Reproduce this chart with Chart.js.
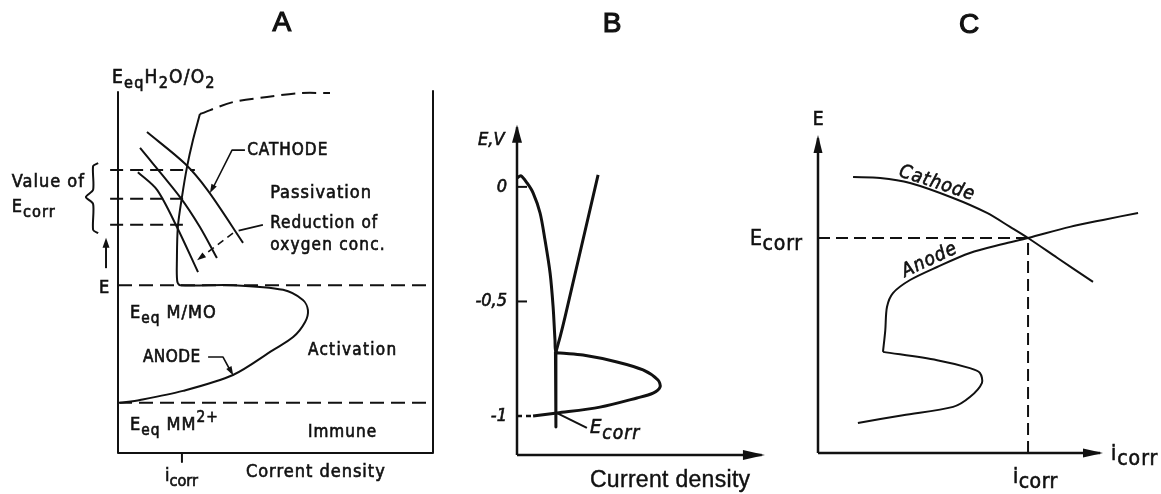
<!DOCTYPE html>
<html>
<head>
<meta charset="utf-8">
<script src="https://cdn.jsdelivr.net/npm/chart.js@4"></script>
<style>
  html, body { margin: 0; background: #fff; }
  body { width: 1161px; height: 494px; position: relative; overflow: hidden; }
  canvas { position: absolute; top: 0; }
</style>
</head>
<body>
<canvas id="chartA" width="450" height="494" style="left:0px"></canvas>
<canvas id="chartB" width="320" height="494" style="left:450px"></canvas>
<canvas id="chartC" width="421" height="494" style="left:740px"></canvas>
<script>
// ---- panel A : E vs current density (0..100 arbitrary units on both axes)
const aZones = [46.5, 13.9];               // passivation/activation, activation/immune
const aAnodeI = [0.6, 7.0, 20.6, 36.5, 49.2, 55.6, 59.4, 60.3, 58.7, 52.4, 36.5, 19.7, 18.8, 18.7, 19.0, 20.3, 21.9, 23.8, 26.0];
const aAnodeE = [13.9, 14.7, 17.2, 21.6, 28.5, 32.1, 36.3, 39.6, 42.4, 45.2, 46.5, 46.5, 47.6, 53.5, 62.6, 70.9, 79.2, 86.7, 93.9];
const aLimitI = [26.0, 36.5, 47.3, 57.8, 67.3];
const aLimitE = [93.9, 97.2, 98.6, 99.7, 99.7];
const aCath1I = [9.2, 21.3, 28.6, 39.7];
const aCath1E = [88.9, 80.1, 72.6, 58.2];
const aCath2I = [7.0, 19.7, 26.0, 31.4];
const aCath2E = [84.5, 70.9, 62.6, 54.0];
const aCath3I = [6.3, 12.4, 18.7, 25.4];
const aCath3E = [77.8, 72.9, 62.6, 50.1];
const aEcorr = [78.4, 70.4, 63.2];
const aEcorrEnd = [24.4, 21.9, 20.6];
const aIcorr = 20.3;

// ---- panel B : E (V) vs current density
const bTicks = [0, -0.5, -1];
const bTickLabels = ['0', '-0,5', '-1'];
const bLoopI = [0, 1.7, 4.3, 6.9, 9.9, 12.0, 14.2, 15.5, 16.3, 16.7, 18.5, 28.3, 42.9, 54.1, 60.5, 61.4, 58.4, 51.5, 35.6, 17.2, 6.9];
const bLoopE = [0.039, 0.048, 0.017, -0.026, -0.114, -0.231, -0.376, -0.524, -0.668, -0.721, -0.725, -0.734, -0.764, -0.799, -0.843, -0.873, -0.900, -0.921, -0.961, -0.987, -1.0];
const bCathI = [16.7, 18.5, 20.6, 34.8];
const bCathE = [-0.721, -0.655, -0.568, 0.052];
const bVertI = [16.5, 16.7];
const bVertE = [-0.721, -1.048];
const bEcorr = -1.0;

// ---- panel C : E vs i
const cCathI = [12.3, 21.8, 32.3, 47.4, 59.3, 67.4, 73.7, 83.9, 96.5];
const cCathE = [86.8, 86.5, 84.9, 80.2, 75.5, 71.1, 67.6, 61.4, 53.8];
const cAnodeLowI = [14.0, 29.8, 47.4, 53.3, 57.5, 56.8, 53.3, 41.8, 22.8];
const cAnodeLowE = [9.4, 11.9, 14.5, 17.6, 22.0, 25.2, 26.7, 29.2, 31.8];
const cAnodeUpI = [22.8, 23.6, 24.2, 26.3, 32.3, 41.8, 53.3, 64.9, 73.7, 88.4, 100, 112.3];
const cAnodeUpE = [31.8, 38.5, 45.9, 50.3, 54.4, 58.5, 62.9, 65.7, 67.6, 71.1, 73.3, 75.5];
const cEcorr = 67.6;
const cIcorr = 73.7;

const ink = '#111';
const fontD = '"DejaVu Sans Condensed", "Liberation Sans Narrow", "DejaVu Sans", sans-serif';
const fontT = '"Liberation Sans", Arial, sans-serif';

function line(xs, ys, o) {
  return Object.assign({
    data: xs.map((v, i) => ({ x: v, y: ys[i] })),
    showLine: true, pointRadius: 0, borderColor: ink, borderWidth: 2,
    tension: 0, fill: false, clip: false, borderJoinStyle: 'round'
  }, o || {});
}

// rich text like E_{eq}H_{2}O or MM^{2+}
function drawRich(ctx, x, y, t) {
  const size = t.size || 17, subScale = t.subScale || 0.8;
  const parts = [];
  t.s.replace(/([_^])\{([^}]*)\}|([^_^]+)/g, (m, k, inner, plain) => {
    parts.push(k ? { s: inner, k } : { s: plain, k: '' });
  });
  const fontOf = p => `${t.style || ''} ${p.k ? size * subScale : size}px ${t.family || fontD}`;
  ctx.save();
  ctx.letterSpacing = (t.ls || 0) + 'px';
  let w = 0;
  parts.forEach(p => { ctx.font = fontOf(p); p.w = ctx.measureText(p.s).width; w += p.w; });
  ctx.translate(x, y);
  if (t.rot) ctx.rotate(t.rot * Math.PI / 180);
  let cx = t.align === 'center' ? -w / 2 : t.align === 'right' ? -w : 0;
  ctx.textBaseline = t.base || 'alphabetic';
  ctx.strokeStyle = ink;
  ctx.lineWidth = t.heavy || 0.6;
  parts.forEach(p => {
    ctx.font = fontOf(p);
    const dy = p.k === '_' ? size * (t.subDy || 0.28) : p.k === '^' ? -size * 0.42 : 0;
    ctx.fillText(p.s, cx, dy);
    ctx.strokeText(p.s, cx, dy);
    cx += p.w;
  });
  ctx.restore();
}

const decoPlugin = {
  id: 'deco',
  afterDatasetsDraw(chart, args, opts) {
    const { ctx } = chart;
    const sx = chart.scales.x, sy = chart.scales.y;
    const P = (a) => [sx.getPixelForValue(a[0]), sy.getPixelForValue(a[1])];
    ctx.save();
    ctx.fillStyle = ink;
    (opts.arrows || []).forEach(a => {
      const [tx, ty] = P(a.at), [fx, fy] = P(a.from);
      const ang = Math.atan2(ty - fy, tx - fx);
      const len = a.len || 9, w = (a.w || 6) / 2;
      ctx.beginPath();
      ctx.moveTo(tx, ty);
      ctx.lineTo(tx - len * Math.cos(ang) + w * Math.sin(ang), ty - len * Math.sin(ang) - w * Math.cos(ang));
      ctx.lineTo(tx - len * Math.cos(ang) - w * Math.sin(ang), ty - len * Math.sin(ang) + w * Math.cos(ang));
      ctx.closePath();
      ctx.fill();
    });
    (opts.texts || []).forEach(t => {
      const [px, py] = P([t.x, t.y]);
      drawRich(ctx, px, py, t);
    });
    ctx.restore();
  }
};

function makeChart(id, datasets, xr, yr, pad, deco) {
  return new Chart(document.getElementById(id), {
    type: 'scatter',
    data: { datasets },
    plugins: [decoPlugin],
    options: {
      responsive: false, animation: false, events: [],
      layout: { padding: pad },
      scales: {
        x: { type: 'linear', min: xr[0], max: xr[1], display: false },
        y: { type: 'linear', min: yr[0], max: yr[1], display: false }
      },
      plugins: { legend: { display: false }, tooltip: { enabled: false }, deco }
    }
  });
}

const dashA = { borderDash: [14, 7], borderWidth: 2 };

// ---------- A
makeChart('chartA', [
  line([0, 0, 100, 100], [100, 0, 0, 100.5]),
  line([0, 100], [aZones[0], aZones[0]], dashA),
  line([0, 100], [aZones[1], aZones[1]], dashA),
  line(aAnodeI, aAnodeE, { tension: 0.3 }),
  line(aLimitI, aLimitE, Object.assign({ tension: 0.3 }, dashA)),
  line(aCath1I, aCath1E, { tension: 0.3 }),
  line(aCath2I, aCath2E, { tension: 0.3 }),
  line(aCath3I, aCath3E, { tension: 0.3 }),
  ...aEcorr.map((e, i) => line([-2.5, aEcorrEnd[i]], [e, e], { borderDash: [13, 7] })),
  line([aIcorr, aIcorr], [0, -2.5]),
  // brace, arrow and leaders
  line([-6.3, -7.9, -7.9, -10.2, -7.9, -7.9, -6.3], [80.3, 79.5, 72.9, 70.9, 69.0, 61.8, 60.9], { tension: 0.25 }),
  line([-3.8, -3.8], [51.2, 58.0]),
  line([40.3, 36.2, 30.0], [83.9, 83.9, 73.2], { borderWidth: 1.6 }),
  line([28.6, 33.3, 36.0], [26.6, 26.6, 22.3], { borderWidth: 1.6 }),
  line([46.0, 38.3], [63.2, 61.6], { borderWidth: 1.6 }),
  line([36.5, 26.0], [60.9, 54.0], { borderWidth: 1.6, borderDash: [7, 5] })
], [0, 100], [0, 100], { left: 118, right: 17, top: 92, bottom: 41 }, {
  arrows: [
    { at: [-3.8, 59.6], from: [-3.8, 51.2], len: 10, w: 7 },
    { at: [29.2, 72.0], from: [36.2, 83.9], len: 9, w: 6 },
    { at: [36.6, 21.5], from: [33.3, 26.6], len: 9, w: 6 },
    { at: [25.1, 53.4], from: [36.5, 60.9], len: 9, w: 6 }
  ],
  texts: [
    { x: 52.0, y: 116.9, s: 'A', size: 28, family: fontT, align: 'center', heavy: 1.2 },
    { x: -1.9, y: 102.5, s: 'E_{eq}H_{2}O/O_{2}', size: 19, ls: 1.2, subScale: 0.85 },
    { x: -33.7, y: 73.7, s: 'Value of', size: 18, ls: 1 },
    { x: -33.7, y: 66.8, s: 'E_{corr}', size: 18, ls: 1, subScale: 0.9 },
    { x: -6.0, y: 44.3, s: 'E', size: 18 },
    { x: 41.0, y: 82.5, s: 'CATHODE', size: 17, ls: 1 },
    { x: 48.3, y: 70.6, s: 'Passivation', size: 18, ls: 1 },
    { x: 48.3, y: 62.3, s: 'Reduction of', size: 17, ls: 1 },
    { x: 48.3, y: 56.2, s: 'oxygen conc.', size: 17, ls: 1.2 },
    { x: 3.8, y: 37.4, s: 'E_{eq} M/MO', size: 18, ls: 1, subScale: 0.85 },
    { x: 7.9, y: 25.2, s: 'ANODE', size: 17, ls: 0.5 },
    { x: 60.3, y: 27.1, s: 'Activation', size: 17, ls: 1.3 },
    { x: 3.8, y: 6.4, s: 'E_{eq} MM^{2+}', size: 18, ls: 1, subScale: 0.85 },
    { x: 60.3, y: 4.4, s: 'Immune', size: 17, ls: 1 },
    { x: 14.9, y: -7.8, s: 'i_{corr}', size: 18, subScale: 0.9 },
    { x: 40.6, y: -6.6, s: 'Corrent density', size: 18, ls: 1 }
  ]
});

// ---------- B
const wB = 3;
makeChart('chartB', [
  line([0, 0], [-1.17, 0.26], { borderWidth: 2.5 }),
  line([0, 105], [-1.17, -1.17], { borderWidth: 2.5 }),
  ...bTicks.slice(0, 2).map(t => line([0, 4.3], [t, t], { borderWidth: 2 })),
  line(bLoopI, bLoopE, { tension: 0.3, borderWidth: wB }),
  line([0, 6.9], [bEcorr, bEcorr], { borderWidth: 2.5, borderDash: [5, 4] }),
  line(bVertI, bVertE, { borderWidth: wB }),
  line(bCathI, bCathE, { tension: 0.2, borderWidth: wB }),
  line([17.2, 30.0], [-0.987, -1.052], { borderWidth: 2 })
], [0, 100], [-1.17, 0.27], { left: 67, right: 20, top: 125, bottom: 39 }, {
  arrows: [
    { at: [0, 0.271], from: [0, 0], len: 18, w: 10 },
    { at: [106.4, -1.17], from: [0, -1.17], len: 22, w: 10 }
  ],
  texts: [
    { x: 40.8, y: 0.677, s: 'B', size: 28, family: fontT, align: 'center', heavy: 1.2 },
    { x: -16.7, y: 0.183, s: 'E,V', size: 18, style: 'italic' },
    ...bTicks.map((t, i) => ({ x: -4.3, y: t, s: bTickLabels[i], size: 18, style: 'italic', align: 'right', base: 'middle' })),
    { x: 31.3, y: -1.074, s: 'E_{corr}', size: 20, style: 'italic', subScale: 0.95, subDy: 0.3, ls: 1 },
    { x: 31.3, y: -1.31, s: 'Current density', size: 23, family: fontT, ls: 0.3, heavy: 0.4 }
  ]
});

// ---------- C
const dashC = { borderDash: [12, 6], borderWidth: 2 };
makeChart('chartC', [
  line([0, 0], [0, 99], { borderWidth: 2.5 }),
  line([0, 99], [0, 0], { borderWidth: 2.5 }),
  line(cCathI, cCathE, { tension: 0.3 }),
  line(cAnodeLowI, cAnodeLowE, { tension: 0.3 }),
  line(cAnodeUpI, cAnodeUpE, { tension: 0.3 }),
  line([0, cIcorr], [cEcorr, cEcorr], dashC),
  line([cIcorr, cIcorr], [0, cEcorr], dashC)
], [0, 120], [0, 100], { left: 78, right: 1, top: 135, bottom: 41 }, {
  arrows: [
    { at: [0, 100], from: [0, 0], len: 18, w: 9 },
    { at: [100, 0], from: [0, 0], len: 20, w: 9 }
  ],
  texts: [
    { x: 53.0, y: 132.1, s: 'C', size: 28, family: fontT, align: 'center', heavy: 1.2 },
    { x: -1.8, y: 103.1, s: 'E', size: 19 },
    { x: -23.9, y: 65.4, s: 'E_{corr}', size: 21, subScale: 1, subDy: 0.22, ls: 0.8 },
    { x: 102.8, y: -2.2, s: 'i_{corr}', size: 21, subScale: 1, subDy: 0.25, ls: 1 },
    { x: 68.4, y: -9.4, s: 'i_{corr}', size: 21, subScale: 1, subDy: 0.25, ls: 0.5 },
    { x: 28.1, y: 87.1, s: 'Cathode', size: 19, style: 'italic', rot: 18, ls: 1 },
    { x: 30.5, y: 55.3, s: 'Anode', size: 19, style: 'italic', rot: -25, ls: 1 }
  ]
});
</script>
</body>
</html>
